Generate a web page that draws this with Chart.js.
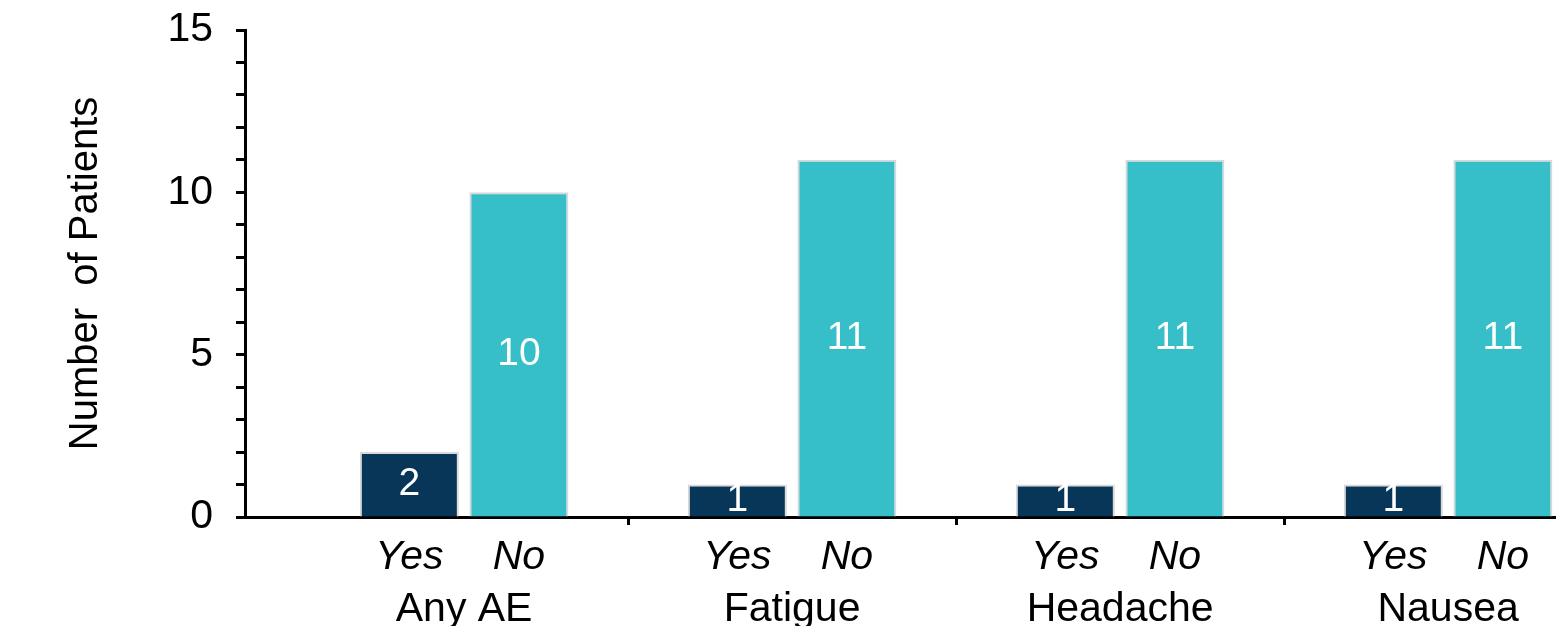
<!DOCTYPE html>
<html>
<head>
<meta charset="utf-8">
<script src="https://cdn.jsdelivr.net/npm/chart.js@4/dist/chart.umd.min.js"></script>
<style>
    html, body { margin: 0; padding: 0; background: #fff; overflow: hidden; }
    #wrap { width: 1556px; height: 626px; position: relative; }
</style>
</head>
<body>
<div id="wrap"><canvas id="aeChart"></canvas></div>
<script>
// data
const categories = ['Any AE', 'Fatigue', 'Headache', 'Nausea'];
const groupLabels = ['Yes', 'No'];
const yesValues = [2, 1, 1, 1];
const noValues = [10, 11, 11, 11];
const yTickLabels = [0, 5, 10, 15];

const FONT = '"Liberation Sans", Arial, Helvetica, sans-serif';
const CAT_PCT = 0.668;
const BAR_PCT = 0.904;
// visible x range, in group units (the left of the first group is cut short)
const X_MIN = -0.168;
const X_MAX = 3.829;

// bars sit at the middle of each group slot
const toPoints = values => values.map((v, i) => ({ x: i + 0.5, y: v }));

const barValueLabels = {
    id: 'barValueLabels',
    afterDatasetsDraw(chart) {
        const ctx = chart.ctx;
        ctx.save();
        ctx.fillStyle = '#ffffff';
        ctx.font = '39px ' + FONT;
        ctx.textAlign = 'center';
        ctx.textBaseline = 'middle';
        chart.data.datasets.forEach((ds, di) => {
            chart.getDatasetMeta(di).data.forEach((bar, i) => {
                const p = bar.getCenterPoint();
                ctx.fillText(String(ds.data[i].y), p.x, p.y);
            });
        });
        ctx.restore();
    }
};

const hiddenAxisBase = {
    type: 'linear',
    position: 'bottom',
    min: X_MIN,
    max: X_MAX,
    offset: false,
    grid: { display: false, drawTicks: false },
    border: { display: false }
};

new Chart(document.getElementById('aeChart'), {
    type: 'bar',
    data: {
        datasets: [
            {
                label: groupLabels[0],
                data: toPoints(yesValues),
                backgroundColor: '#073659',
                borderColor: '#d9d9d9',
                borderWidth: 2,
                categoryPercentage: CAT_PCT,
                barPercentage: BAR_PCT
            },
            {
                label: groupLabels[1],
                data: toPoints(noValues),
                backgroundColor: '#36bfc8',
                borderColor: '#d9d9d9',
                borderWidth: 2,
                categoryPercentage: CAT_PCT,
                barPercentage: BAR_PCT
            }
        ]
    },
    options: {
        responsive: true,
        maintainAspectRatio: false,
        animation: false,
        layout: { padding: { top: 30, left: 0, right: 0, bottom: 0 } },
        plugins: {
            legend: { display: false },
            tooltip: { enabled: false }
        },
        scales: {
            x: {
                type: 'linear',
                position: 'bottom',
                weight: 0,
                min: X_MIN,
                max: X_MAX,
                offset: false,
                grid: {
                    offset: false,
                    drawOnChartArea: false,
                    drawTicks: true,
                    tickLength: 8,
                    tickColor: '#000',
                    tickWidth: 3
                },
                border: { display: true, color: '#000', width: 3 },
                ticks: { display: false },
                afterBuildTicks: axis => {
                    // separators between the groups
                    axis.ticks = categories.slice(1).map((c, i) => ({ value: i + 1 }));
                },
                afterFit: axis => { axis.height = 10; }
            },
            xSub: {
                ...hiddenAxisBase,
                weight: 1,
                ticks: {
                    autoSkip: false,
                    maxRotation: 0,
                    padding: 6,
                    color: '#000',
                    font: { family: FONT, size: 41, style: 'italic' },
                    callback: (value, index) => groupLabels[index % groupLabels.length]
                },
                afterBuildTicks: axis => {
                    axis.ticks = categories.flatMap((c, i) =>
                        groupLabels.map((g, j) => ({ value: i + 0.5 + (j - 0.5) * CAT_PCT / 2 })));
                },
                afterFit: axis => { axis.height = 50; }
            },
            xCat: {
                ...hiddenAxisBase,
                weight: 2,
                ticks: {
                    autoSkip: false,
                    maxRotation: 0,
                    padding: 8,
                    color: '#000',
                    font: { family: FONT, size: 41 },
                    callback: (value, index) => categories[index]
                },
                afterBuildTicks: axis => {
                    axis.ticks = categories.map((c, i) => ({ value: i + 0.5 }));
                },
                afterFit: axis => { axis.height = 49; }
            },
            y: {
                min: 0,
                max: 15,
                grid: {
                    drawOnChartArea: false,
                    drawTicks: true,
                    tickLength: 9,
                    tickColor: '#000',
                    tickWidth: 3
                },
                border: { display: true, color: '#000', width: 3 },
                ticks: {
                    stepSize: 1,
                    autoSkip: false,
                    padding: 23,
                    color: '#000',
                    font: { family: FONT, size: 41 },
                    callback: value => yTickLabels.includes(value) ? String(value) : ''
                },
                title: {
                    display: true,
                    text: 'Number  of Patients',
                    color: '#000',
                    font: { family: FONT, size: 40 },
                    padding: { top: 62, bottom: 0 }
                },
                afterFit: axis => {
                    axis.width = 245;
                    // the top label may poke above the plot, as in the original
                    axis.paddingTop = 0;
                    axis.paddingBottom = 0;
                }
            }
        }
    },
    plugins: [barValueLabels]
});
</script>
</body>
</html>
